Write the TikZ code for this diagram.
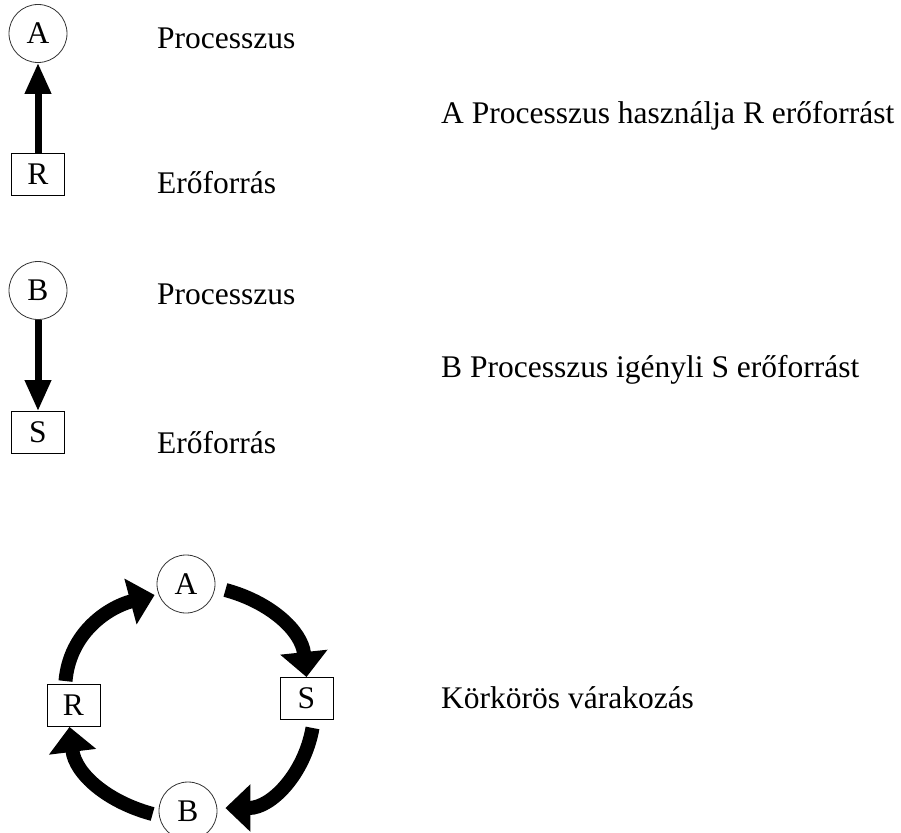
\documentclass[tikz,border=0pt]{standalone}
\usepackage{fontspec}
\setmainfont{Liberation Serif}
\usetikzlibrary{arrows.meta}
\begin{document}
\begin{tikzpicture}[x=1pt,y=1pt,
  every node/.style={font=\fontsize{31.5}{36}\selectfont},
  proc/.style={circle,draw=black!80,line width=0.8pt,minimum size=58pt,inner sep=0pt},
  res/.style={rectangle,draw=black,line width=0.9pt,minimum width=53pt,minimum height=42pt,inner sep=0pt},
  lbl/.style={anchor=base west,inner sep=0pt},
  sarrow/.style={line width=7pt,-{Triangle[length=31pt,width=25pt]}},
  carrow/.style={line width=14pt,-{Triangle[length=25pt,width=46pt]}}
]
\useasboundingbox (0,0) rectangle (901,-832);
% top group
\node[proc] (A1) at (38,-33.5) {A};
\node[res] (R1) at (38,-174) {R};
\draw[sarrow] (R1.north) -- (A1.south);
\node[lbl] (p1) at (157,-49) {Processzus};
\node[lbl] (e1) at (157,-193) {Erőforrás};
\node[lbl] (t1) at (441,-123) {A Processzus használja R erőforrást};
% second group
\node[proc] (B1) at (38,-290.5) {B};
\node[res] (S1) at (38,-432.5) {S};
\draw[sarrow] (B1.south) -- (S1.north);
\node[lbl] (p2) at (157,-304) {Processzus};
\node[lbl] (e2) at (157,-453) {Erőforrás};
\node[lbl] (t2) at (441,-377) {B Processzus igényli S erőforrást};
% cycle
\node[proc] (A2) at (186,-584) {A};
\node[res] (S2) at (306.5,-698.5) {S};
\node[res] (R2) at (73.5,-705.5) {R};
\node[proc] (B2) at (188,-811) {B};
\draw[carrow] ([shift={(-8,3)}]R2.north) to[out=85,in=195] ([shift={(-2,-11)}]A2.west);
\draw[carrow] ([shift={(10,-6)}]A2.east) to[out=-15,in=96] (S2.north);
\draw[carrow] ([shift={(6,-8)}]S2.south) to[out=-100,in=0] ([shift={(8,3)}]B2.east);
\draw[carrow] ([shift={(-6,-3)}]B2.west) to[out=165,in=-83] ([xshift=-4]R2.south);
\node[lbl] (t3) at (441,-708) {Körkörös várakozás};
\end{tikzpicture}
\end{document}
